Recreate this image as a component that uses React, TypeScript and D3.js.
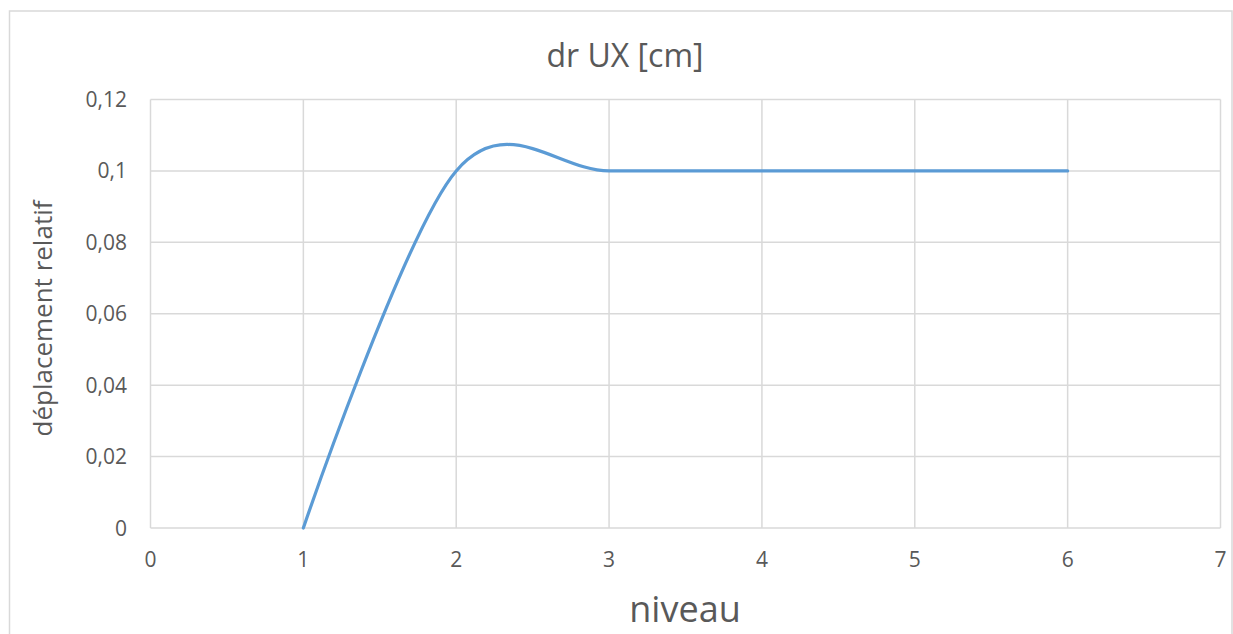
import React from "react";
import * as d3 from "d3";

const xValues = [1, 2, 3, 4, 5, 6];
const yValues = [0, 0.1, 0.1, 0.1, 0.1, 0.1];
const xTicks = [0, 1, 2, 3, 4, 5, 6, 7];
const yTicks = [0, 0.02, 0.04, 0.06, 0.08, 0.1, 0.12];
const yTickLabels = ["0", "0,02", "0,04", "0,06", "0,08", "0,1", "0,12"];
const title = "dr UX [cm]";
const xTitle = "niveau";
const yTitle = "déplacement relatif";

const W = 1233;
const H = 634;
const FONT = "'Open Sans', 'Noto Sans', sans-serif";
const TXT = "#595959";
const GRID = "#d9d9d9";

export default function App() {
  const x = d3.scaleLinear().domain([0, 7]).range([150.5, 1220.5]);
  const y = d3.scaleLinear().domain([0, 0.12]).range([528, 99.5]);
  const pts: [number, number][] = xValues.map((v, i) => [x(v), y(yValues[i])]);
  const line = d3.line().curve(d3.curveCatmullRom.alpha(0))(pts) || "";

  return (
    <svg
      width={W}
      height={H}
      style={{ position: "absolute", left: 0, top: 0, background: "#fff" }}
      fontFamily={FONT}
    >
      <rect x={0} y={0} width={W} height={H} fill="#fff" />
      <rect x={9.5} y={11} width={1222.5} height={H + 20} fill="none" stroke={GRID} strokeWidth={1.5} />
      <text x={625} y={67} textAnchor="middle" fontSize={32} fill={TXT}>
        {title}
      </text>
      {xTicks.map((t) => (
        <line key={"gx" + t} x1={x(t)} x2={x(t)} y1={y(0.12)} y2={y(0)} stroke={GRID} strokeWidth={1.5} />
      ))}
      {yTicks.map((t) => (
        <line key={"gy" + t} x1={x(0)} x2={x(7)} y1={y(t)} y2={y(t)} stroke={GRID} strokeWidth={1.5} />
      ))}
      {yTicks.map((t, i) => (
        <text key={"ty" + t} x={127} y={y(t) + 7.5} textAnchor="end" fontSize={21} fill={TXT}>
          {yTickLabels[i]}
        </text>
      ))}
      {xTicks.map((t) => (
        <text key={"tx" + t} x={x(t)} y={566.5} textAnchor="middle" fontSize={21} fill={TXT}>
          {String(t)}
        </text>
      ))}
      <path d={line} fill="none" stroke="#5b9bd5" strokeWidth={3.2} strokeLinecap="round" strokeLinejoin="round" />
      <text x={685} y={621.5} textAnchor="middle" fontSize={36} fill={TXT}>
        {xTitle}
      </text>
      <text
        transform={`translate(52, 318.5) rotate(-90)`}
        textAnchor="middle"
        fontSize={26}
        fill={TXT}
      >
        {yTitle}
      </text>
    </svg>
  );
}
